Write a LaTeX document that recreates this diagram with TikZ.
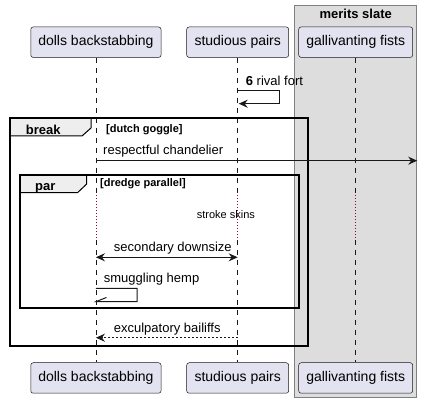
\documentclass[tikz,border=0pt]{standalone}
\usepackage{fontspec}
\setmainfont{Liberation Sans}
\usetikzlibrary{arrows.meta}
\usetikzlibrary{positioning}
\definecolor{partfill}{HTML}{E2E2F0}
\definecolor{partline}{HTML}{181818}
\definecolor{boxfill}{HTML}{DDDDDD}
\definecolor{tabfill}{HTML}{EEEEEE}
\definecolor{delaydot}{HTML}{8B0A3A}

\begin{document}
\begin{tikzpicture}[x=1pt,y=-1pt,>={Stealth[length=9pt,width=8pt,inset=3pt]},
    part node/.style={rectangle,rounded corners=2.5pt,draw=partline,line width=0.5pt,fill=partfill,minimum height=30.5pt,inner sep=0pt,font=\fontsize{14}{16}\selectfont},
    box node/.style={rectangle,draw=gray,line width=1pt,fill=boxfill,inner sep=0pt},
    msg label/.style={anchor=base west,inner sep=0pt,font=\fontsize{13}{15}\selectfont},
    frame label/.style={anchor=base west,inner sep=0pt,font=\fontsize{13}{15}\selectfont\bfseries},
    guard label/.style={anchor=base west,inner sep=0pt,font=\fontsize{11}{13}\selectfont\bfseries},
    lifeline/.style={draw=partline,line width=0.5pt,dash pattern=on 5pt off 5pt},
    delay line/.style={draw=delaydot,line width=0.6pt,dash pattern=on 1pt off 2pt},
    frame line/.style={draw=black,line width=1.8pt},
    tab line/.style={draw=black,line width=1pt,fill=tabfill},
    msg/.style={draw=partline,line width=1pt}]
   \useasboundingbox (0,0) rectangle (421,403);
   % box around the third participant
     \node[box node,minimum width=122.7pt,minimum height=392pt] (slate) at (355.35,202) {};
     \node[frame label,anchor=base] (slatetitle) at (355.7,18.5) {merits slate};
   % participants, top and bottom
     \node[part node,minimum width=130.3pt] (dolls) at (95.9,42.2) {dolls backstabbing};
     \node[part node,minimum width=102pt] (pairs) at (237.7,42.2) {studious pairs};
     \node[part node,minimum width=114pt] (fists) at (355.7,42.2) {gallivanting fists};
     \node[part node,minimum width=130.3pt] (dolls2) at (95.9,378) {dolls backstabbing};
     \node[part node,minimum width=102pt] (pairs2) at (237.7,378) {studious pairs};
     \node[part node,minimum width=114pt] (fists2) at (355.7,378) {gallivanting fists};
   % rows
     \coordinate (delaytop) at (0,195);
     \coordinate (delaybot) at (0,240);
     \coordinate (r1) at (0,91);
     \coordinate (r1b) at (0,103.7);
     \coordinate (r2) at (0,160.7);
     \coordinate (r3) at (0,257.3);
     \coordinate (r4) at (0,288.3);
     \coordinate (r4b) at (0,301.7);
     \coordinate (r5) at (0,337.7);
   % lifelines
      \path[lifeline] (dolls.south) -- (dolls |- delaytop);
      \path[delay line] (dolls |- delaytop) -- (dolls |- delaybot);
      \path[lifeline] (dolls |- delaybot) -- (dolls2.north);
      \path[lifeline] (pairs.south) -- (pairs |- delaytop);
      \path[delay line] (pairs |- delaytop) -- (pairs |- delaybot);
      \path[lifeline] (pairs |- delaybot) -- (pairs2.north);
      \path[lifeline] (fists.south) -- (fists |- delaytop);
      \path[delay line] (fists |- delaytop) -- (fists |- delaybot);
      \path[lifeline] (fists |- delaybot) -- (fists2.north);
   % break frame
      \path[tab line] (10,118) -- (91,118) -- (91,128) -- (82,136) -- (10,136) -- cycle;
      \path[frame line] (10,118) rectangle (308,346);
      \node[frame label] (brk) at (25.7,134.5) {break};
      \node[guard label] (brkguard) at (106,133) {[dutch goggle]};
   % par frame
      \path[tab line] (20,175.3) -- (86.7,175.3) -- (86.7,184) -- (77.5,192.7) -- (20,192.7) -- cycle;
      \path[frame line] (20,175.3) rectangle (298.7,308.3);
      \node[frame label] (par) at (35,190.5) {par};
      \node[guard label] (parguard) at (100,186.7) {[dredge parallel]};
   % messages
      \path[msg,->] (pairs |- r1) -- ++(41.7,0) |- ([xshift=1pt]pairs |- r1b);
      \node[msg label] (m1) at (245.7,85.7) {\textbf{6} rival fort};
      \path[msg,->] (dolls |- r2) -- (slate.east |- r2);
      \node[msg label] (m2) at (103,155) {respectful chandelier};
      \node[msg label,font=\fontsize{11}{13}\selectfont] (delay) at (196.7,219) {stroke skins};
      \path[msg,<->] (dolls |- r3) -- (pairs |- r3);
      \node[msg label] (m3) at (113.7,251.7) {secondary downsize};
      \path[msg] (dolls |- r4) -- ++(41.3,0) |- (dolls |- r4b) -- ++(10.5,-4.2);
      \node[msg label] (m4) at (103.7,282.7) {smuggling hemp};
      \path[msg,dash pattern=on 2pt off 2pt,->] (pairs |- r5) -- (dolls |- r5);
      \node[msg label] (m5) at (113.7,332.7) {exculpatory bailiffs};
  \end{tikzpicture}
\end{document}
